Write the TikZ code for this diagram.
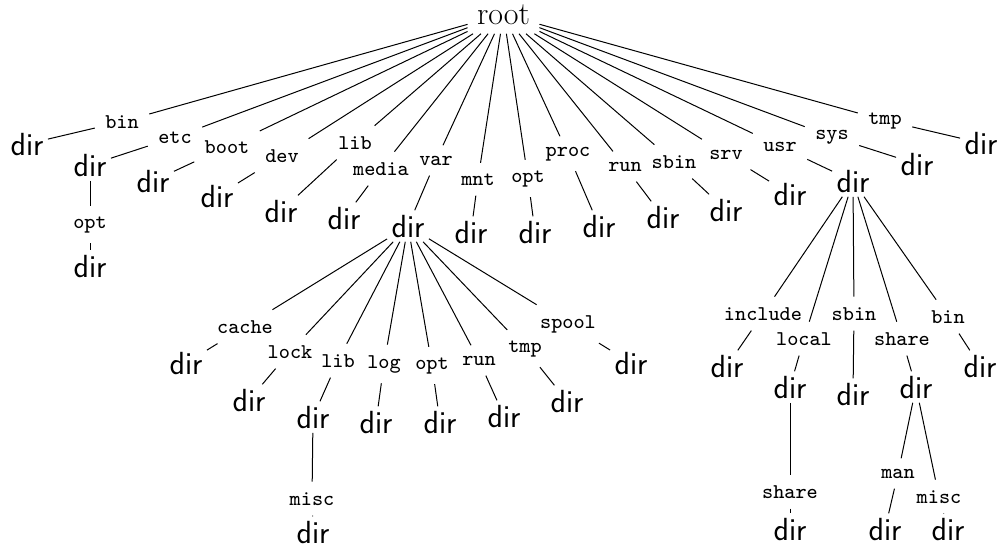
\documentclass[tikz,border=0pt]{standalone}
\usepackage{graphicx}
\newcommand\ttlab[1]{\scalebox{3}{\ttfamily\fontsize{7}{8}\selectfont #1}}
\begin{document}
\begin{tikzpicture}[x=1pt,y=-1pt,line width=1pt,
  rootn/.style={font=\rmfamily\fontsize{32}{36}\selectfont,inner sep=9pt,anchor=base},
  dirn/.style={font=\sffamily\fontsize{32}{36}\selectfont,inner sep=4pt,anchor=base},
  lab/.style={inner sep=10pt,anchor=base}]
\useasboundingbox (0,0) rectangle (999,550);
\node[rootn] (root) at (503.5,24) {root};
% level 1
\node[lab] (bin) at (122,128) {\ttlab{bin}};   \node[dirn] (d1) at (27,155) {dir};
\node[lab] (etc) at (175,143) {\ttlab{etc}};   \node[dirn] (d2) at (90,176) {dir};
\node[lab] (etcopt) at (90,228) {\ttlab{opt}}; \node[dirn] (d2a) at (90,277) {dir};
\node[lab] (boot) at (227,153) {\ttlab{boot}}; \node[dirn] (d3) at (153,192) {dir};
\node[lab] (dev) at (282,162) {\ttlab{dev}};   \node[dirn] (d4) at (217,207) {dir};
\node[lab] (lib) at (355,149) {\ttlab{lib}};   \node[dirn] (d5) at (281,222) {dir};
\node[lab] (media) at (381,175) {\ttlab{media}}; \node[dirn] (d6) at (344,229) {dir};
\node[lab] (var) at (436,165) {\ttlab{var}};   \node[dirn] (d7) at (408,237) {dir};
\node[lab] (mnt) at (478,185) {\ttlab{mnt}};   \node[dirn] (d8) at (471,243) {dir};
\node[lab] (opt) at (528,182) {\ttlab{opt}};   \node[dirn] (d9) at (535,243) {dir};
\node[lab] (proc) at (568,156) {\ttlab{proc}}; \node[dirn] (d10) at (599,237) {dir};
\node[lab] (run) at (625,171) {\ttlab{run}};   \node[dirn] (d11) at (663,228) {dir};
\node[lab] (sbin) at (674,168) {\ttlab{sbin}}; \node[dirn] (d12) at (726,221) {dir};
\node[lab] (srv) at (726,159) {\ttlab{srv}};   \node[dirn] (d13) at (790,205) {dir};
\node[lab] (usr) at (780,151) {\ttlab{usr}};   \node[dirn] (d14) at (853,192) {dir};
\node[lab] (sys) at (832,139) {\ttlab{sys}};   \node[dirn] (d15) at (917,175) {dir};
\node[lab] (tmp) at (885,124) {\ttlab{tmp}};   \node[dirn] (d16) at (981,154) {dir};
% var subtree
\node[lab] (vcache) at (245,333) {\ttlab{cache}}; \node[dirn] (v1) at (186,374) {dir};
\node[lab] (vlock) at (290,358) {\ttlab{lock}};   \node[dirn] (v2) at (249,411) {dir};
\node[lab] (vlib) at (338,367) {\ttlab{lib}};     \node[dirn] (v3) at (313,428) {dir};
\node[lab] (vmisc) at (312,505) {\ttlab{misc}};   \node[dirn] (v3a) at (313,543) {dir};
\node[lab] (vlog) at (384,368) {\ttlab{log}};     \node[dirn] (v4) at (376,433) {dir};
\node[lab] (vopt) at (432,369) {\ttlab{opt}};     \node[dirn] (v5) at (440,433) {dir};
\node[lab] (vrun) at (479,365) {\ttlab{run}};     \node[dirn] (v6) at (504,427) {dir};
\node[lab] (vtmp) at (525,352) {\ttlab{tmp}};     \node[dirn] (v7) at (567,412) {dir};
\node[lab] (vspool) at (568,328) {\ttlab{spool}}; \node[dirn] (v8) at (631,374) {dir};
% usr subtree
\node[lab] (uinc) at (763,320) {\ttlab{include}}; \node[dirn] (u1) at (727,377) {dir};
\node[lab] (uloc) at (804,345) {\ttlab{local}};   \node[dirn] (u2) at (790,398) {dir};
\node[lab] (ulsh) at (790,498) {\ttlab{share}};   \node[dirn] (u2a) at (790,540) {dir};
\node[lab] (usbin) at (854,320) {\ttlab{sbin}};   \node[dirn] (u3) at (853,405) {dir};
\node[lab] (ush) at (902,345) {\ttlab{share}};    \node[dirn] (u4) at (916,398) {dir};
\node[lab] (uman) at (898,478) {\ttlab{man}};     \node[dirn] (u4a) at (885,540) {dir};
\node[lab] (umisc) at (939,503) {\ttlab{misc}};   \node[dirn] (u4b) at (948,540) {dir};
\node[lab] (ubin) at (948,323) {\ttlab{bin}};     \node[dirn] (u5) at (980,377) {dir};
% edges
\foreach \l/\d in {bin/d1,etc/d2,boot/d3,dev/d4,lib/d5,media/d6,var/d7,mnt/d8,opt/d9,proc/d10,run/d11,sbin/d12,srv/d13,usr/d14,sys/d15,tmp/d16}
  \draw (root) -- (\l) -- (\d);
\draw (d2) -- (etcopt) -- (d2a);
\foreach \l/\d in {vcache/v1,vlock/v2,vlib/v3,vlog/v4,vopt/v5,vrun/v6,vtmp/v7,vspool/v8}
  \draw (d7) -- (\l) -- (\d);
\draw (v3) -- (vmisc) -- (v3a);
\foreach \l/\d in {uinc/u1,uloc/u2,usbin/u3,ush/u4,ubin/u5}
  \draw (d14) -- (\l) -- (\d);
\draw (u2) -- (ulsh) -- (u2a);
\draw (u4) -- (uman) -- (u4a);
\draw (u4) -- (umisc) -- (u4b);
\end{tikzpicture}
\end{document}
